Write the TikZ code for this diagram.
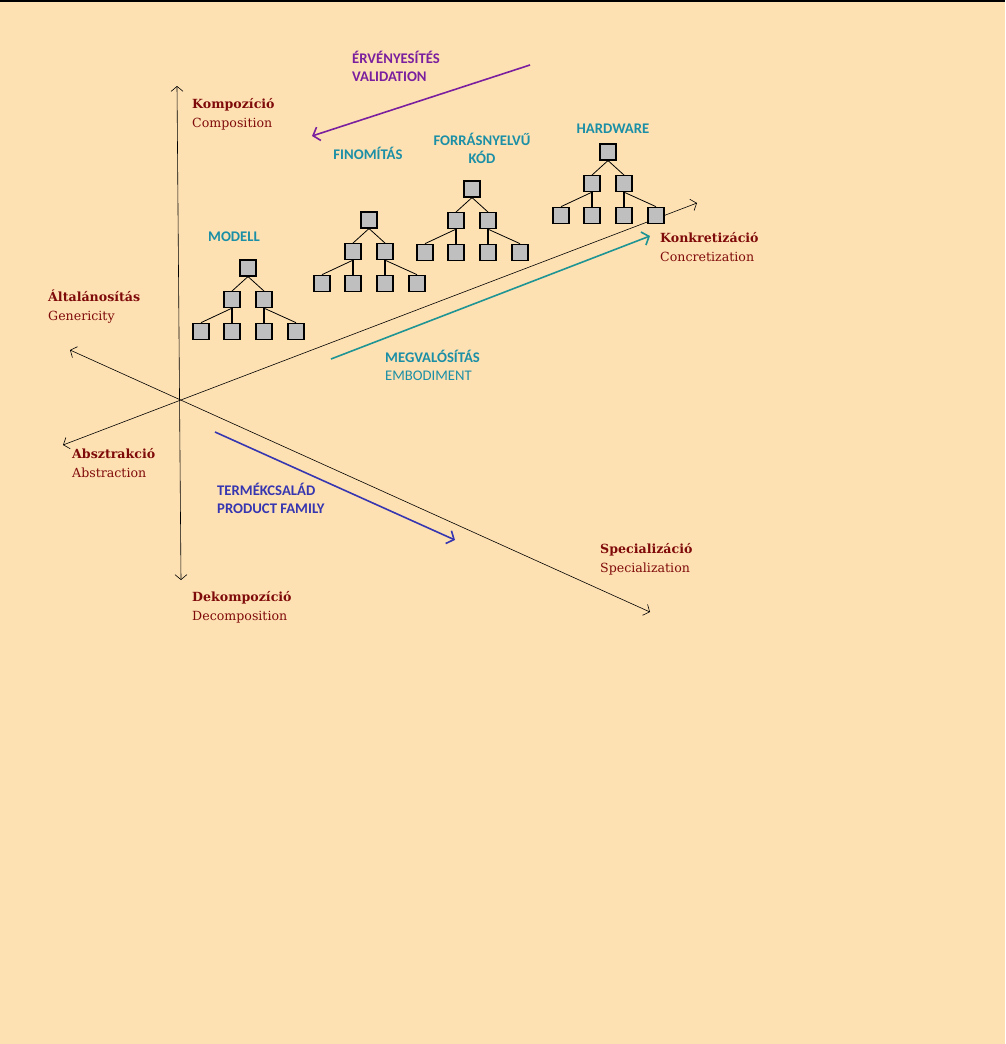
\documentclass[tikz,border=0pt]{standalone}
\usepackage{fontspec}
\setmainfont{DejaVu Serif}
\newfontfamily\calib{Carlito}
\usetikzlibrary{positioning,arrows.meta}
\definecolor{paper}{HTML}{FEE1B3}
\definecolor{maroon}{HTML}{7F0A0A}
\definecolor{validpurple}{HTML}{7A1F9E}
\definecolor{stepteal}{HTML}{1B8FA6}
\definecolor{arrowteal}{HTML}{1E9494}
\definecolor{familyblue}{HTML}{3636B0}

\begin{document}
\begin{tikzpicture}[
x=1pt, y=-1pt, node distance=14.5pt,
box/.style={rectangle, draw=black, fill=gray!50, line width=1.1pt, minimum size=16pt, inner sep=0pt},
axis/.style={black, line width=0.6pt, {Straight Barb[length=5pt,width=12pt]}-{Straight Barb[length=5pt,width=12pt]}},
flow/.style={line width=1.6pt, -{Straight Barb[length=6pt,width=14pt]}},
dimlabel/.style={anchor=west, align=left, inner sep=0pt, text=maroon, font=\fontsize{12.6}{19}\selectfont},
steplabel/.style={align=center, inner sep=0pt, font=\calib\bfseries\fontsize{14.7}{18}\selectfont}
]
\fill[paper] (0,0) rectangle (1005,1044);
\useasboundingbox (0,0) rectangle (1005,1044);
\draw[line width=2pt] (0,1) -- (1005,1);

% axes
\coordinate (komp_end) at (177,86);
\coordinate (dekomp_end) at (181,580);
\coordinate (absz_end) at (63,445);
\coordinate (konk_end) at (697,203);
\coordinate (alt_end) at (70,350);
\coordinate (spec_end) at (650,612);
\draw[axis] (dekomp_end) -- (komp_end);
\draw[axis] (absz_end) -- (konk_end);
\draw[axis] (alt_end) -- (spec_end);

\node[dimlabel](komp) at (192,114){\textbf{Kompozíció}\\Composition};
\node[dimlabel](alt) at (48,307){\textbf{Általánosítás}\\Genericity};
\node[dimlabel](absz) at (72,463){\textbf{Absztrakció}\\Abstraction};
\node[dimlabel](dekomp) at (192,607){\textbf{Dekompozíció}\\Decomposition};
\node[dimlabel](spec) at (600,559){\textbf{Specializáció}\\Specialization};
\node[dimlabel](konk) at (660,247){\textbf{Konkretizáció}\\Concretization};

% trees
\foreach \tr/\x/\y in {mod/248/268, fin/369/220, src/472/189, hw/608/152}{
  \node[box](\tr_root) at (\x,\y){};
  \node[box](\tr_l)[below=of \tr_root,xshift=-16pt]{};
  \node[box](\tr_r)[below=of \tr_root,xshift=16pt]{};
  \node[box](\tr_ll)[below=of \tr_l,xshift=-31pt]{};
  \node[box](\tr_lm)[below=of \tr_l]{};
  \node[box](\tr_rm)[below=of \tr_r]{};
  \node[box](\tr_rr)[below=of \tr_r,xshift=32pt]{};
  \draw[line width=0.8pt] (\tr_root.south) -- (\tr_l.north);
  \draw[line width=0.8pt] (\tr_root.south) -- (\tr_r.north);
  \draw[line width=0.8pt] (\tr_l.south) -- (\tr_ll.north);
  \draw[line width=1.2pt] (\tr_l.south) -- (\tr_lm.north);
  \draw[line width=1.2pt] (\tr_r.south) -- (\tr_rm.north);
  \draw[line width=0.8pt] (\tr_r.south) -- (\tr_rr.north);
}

\node[steplabel, text=stepteal](modell) at (234,237){MODELL};
\node[steplabel, text=stepteal](finom) at (368,153){FINOMÍTÁS};
\node[steplabel, text=stepteal](forras) at (482,148){FORRÁSNYELVŰ\\KÓD};
\node[steplabel, text=stepteal](hardware) at (613,129){HARDWARE};

% flows
\coordinate (valid_start) at (530,65);
\coordinate (valid_end) at (312,136);
\coordinate (embod_start) at (331,359);
\coordinate (embod_end) at (650,236);
\coordinate (family_start) at (215,432);
\coordinate (family_end) at (455,540);
\draw[flow, validpurple] (valid_start) -- (valid_end);
\draw[flow, arrowteal] (embod_start) -- (embod_end);
\draw[flow, familyblue] (family_start) -- (family_end);

\node[steplabel, anchor=west, align=left, text=validpurple](valid) at (352,66){ÉRVÉNYESÍTÉS\\VALIDATION};
\node[steplabel, anchor=west, align=left, text=stepteal](embod) at (385,365){MEGVALÓSÍTÁS\\\mdseries EMBODIMENT};
\node[steplabel, anchor=west, align=left, text=familyblue](family) at (217,498){TERMÉKCSALÁD\\PRODUCT FAMILY};
\end{tikzpicture}
\end{document}
